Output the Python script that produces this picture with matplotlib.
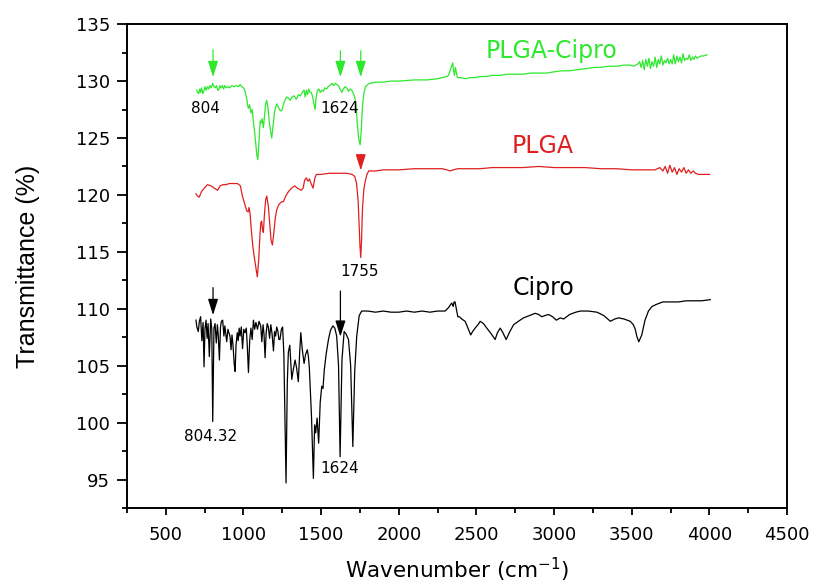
import matplotlib
matplotlib.use("Agg")
from matplotlib import pyplot as plt
from matplotlib.ticker import MultipleLocator

plt.rcParams['font.family'] = ['DejaVu Sans']

# Cipro spectrum (wavenumber, transmittance)
cipro_wn = [694, 700, 709, 716, 724, 732, 740, 746, 752, 759, 766, 772, 780, 789, 796,
            802, 810, 817, 825, 832, 838, 845, 852, 858, 866, 874, 880, 886, 892, 900,
            906, 913, 920, 926, 932, 940, 946, 952, 960, 966, 972, 978, 986, 994, 1002,
            1010, 1018, 1025, 1032, 1040, 1048, 1056, 1064, 1072, 1080, 1090, 1100, 1111,
            1118, 1126, 1132, 1139, 1146, 1153, 1160, 1168, 1176, 1184, 1193, 1200, 1207,
            1214, 1222, 1228, 1235, 1244, 1252, 1260, 1274, 1282, 1289, 1298, 1311, 1320,
            1332, 1342, 1353, 1362, 1369, 1378, 1390, 1400, 1411, 1418, 1424, 1438, 1450,
            1458, 1465, 1474, 1484, 1494, 1504, 1512, 1520, 1532, 1547, 1560, 1575, 1588,
            1600, 1612, 1622, 1634, 1648, 1660, 1676, 1690, 1704, 1716, 1729, 1745, 1761,
            1800, 1850, 1900, 1950, 2000, 2050, 2100, 2150, 2200, 2250, 2298, 2320, 2335,
            2341, 2350, 2356, 2362, 2370, 2380, 2390, 2405, 2427, 2445, 2463, 2475, 2491,
            2510, 2524, 2545, 2572, 2595, 2620, 2635, 2653, 2670, 2691, 2715, 2739, 2770,
            2803, 2840, 2878, 2900, 2921, 2940, 2964, 2990, 3014, 3040, 3061, 3100, 3140,
            3168, 3220, 3276, 3320, 3362, 3390, 3415, 3450, 3490, 3510, 3522, 3532, 3545,
            3564, 3585, 3607, 3630, 3661, 3700, 3750, 3800, 3850, 3900, 3950, 4005]
cipro_t = [109.0, 108.4, 108.0, 108.9, 109.3, 107.2, 108.8, 104.9, 108.2, 109.0, 107.4,
           108.7, 105.8, 109.1, 108.2, 100.1, 108.3, 108.7, 107.0, 108.6, 107.6, 105.5,
           108.4, 108.9, 109.0, 107.6, 108.5, 107.8, 107.1, 108.2, 107.9, 107.6, 106.4,
           107.7, 106.9, 105.2, 104.5, 106.8, 107.9, 107.2, 108.3, 107.6, 108.4, 106.5,
           108.2, 107.9, 108.3, 106.6, 104.4, 107.2, 108.3, 107.3, 109.0, 108.2, 108.8,
           108.2, 108.9, 108.5, 107.1, 108.6, 107.8, 105.7, 107.9, 108.7, 108.4, 107.4,
           108.6, 107.8, 106.3, 108.0, 107.6, 108.4, 108.0, 107.3, 107.3, 108.2, 108.4,
           106.0, 94.7, 103.5, 106.2, 106.8, 103.8, 104.6, 105.5, 104.8, 103.6, 106.2,
           107.9, 106.5, 105.2, 106.0, 106.4, 105.8, 104.8, 100.5, 95.1, 99.8, 99.1,
           100.4, 98.2, 101.8, 103.2, 103.0, 104.6, 106.0, 107.3, 108.1, 108.5, 108.3,
           107.6, 105.0, 97.0, 105.5, 108.0, 107.8, 107.3, 105.0, 97.9, 104.5, 107.6,
           109.4, 109.8, 109.8, 109.7, 109.8, 109.7, 109.7, 109.8, 109.7, 109.8, 109.7,
           109.8, 109.8, 110.1, 110.4, 110.5, 110.2, 110.6, 110.6, 110.0, 109.3, 109.3,
           109.1, 108.9, 108.3, 107.7, 108.0, 108.3, 108.6, 108.9, 108.7, 108.2, 107.8,
           107.3, 107.9, 108.3, 107.9, 107.3, 108.0, 108.6, 108.9, 109.2, 109.4, 109.6,
           109.5, 109.3, 109.4, 109.5, 109.3, 109.0, 109.2, 109.1, 109.5, 109.7, 109.8,
           109.8, 109.7, 109.4, 108.9, 109.1, 109.2, 109.1, 108.9, 108.6, 108.2, 107.6,
           107.1, 107.7, 109.0, 109.8, 110.2, 110.4, 110.6, 110.6, 110.6, 110.7, 110.7,
           110.7, 110.8]

# PLGA spectrum
plga_wn = [694, 704, 715, 730, 748, 768, 790, 812, 833, 850, 868, 886, 910, 935, 961,
           980, 993, 1008, 1021, 1030, 1036, 1042, 1050, 1060, 1070, 1080, 1089, 1098,
           1106, 1112, 1117, 1122, 1128, 1136, 1143, 1150, 1160, 1170, 1178, 1186, 1195,
           1205, 1214, 1230, 1245, 1257, 1272, 1290, 1310, 1330, 1345, 1360, 1372, 1384,
           1394, 1405, 1415, 1425, 1435, 1448, 1460, 1470, 1500, 1550, 1600, 1663, 1700,
           1717, 1728, 1738, 1745, 1750, 1755, 1760, 1766, 1775, 1784, 1795, 1806, 1850,
           1900, 2000, 2100, 2200, 2280, 2310, 2330, 2350, 2380, 2450, 2524, 2600, 2700,
           2800, 2900, 3000, 3100, 3200, 3300, 3400, 3500, 3600, 3650, 3680, 3700, 3715,
           3730, 3745, 3760, 3775, 3790, 3805, 3820, 3835, 3850, 3865, 3880, 3895, 3910,
           3930, 3960, 4000]
plga_t = [120.1, 119.9, 119.8, 120.3, 120.6, 120.9, 120.8, 120.6, 120.4, 120.8, 120.9,
          120.9, 121.0, 121.0, 121.0, 120.8, 119.9, 119.2, 118.6, 118.5, 118.9, 118.4,
          117.0, 115.5, 114.5, 113.6, 112.8, 114.3, 116.5, 117.6, 117.7, 117.0, 116.7,
          118.5, 119.6, 119.9, 119.0, 117.3, 116.0, 115.6, 116.6, 118.0, 118.7, 119.2,
          119.4, 119.4, 119.9, 120.3, 120.6, 120.8, 120.6, 120.5, 120.4, 120.6, 121.3,
          121.5, 121.2, 121.4, 121.0, 120.6, 121.5, 121.8, 121.8, 121.9, 121.9, 121.9,
          121.8, 121.6, 121.0, 119.5, 117.2, 115.5, 114.5, 116.0, 118.8, 120.5, 121.2,
          121.8, 122.1, 122.1, 122.2, 122.2, 122.3, 122.3, 122.3, 122.2, 122.1, 122.2,
          122.3, 122.3, 122.3, 122.4, 122.4, 122.4, 122.5, 122.4, 122.4, 122.4, 122.3,
          122.3, 122.2, 122.2, 122.2, 122.4, 122.1, 122.5, 121.9, 122.6, 122.0, 122.4,
          121.8, 122.3, 122.0, 122.4, 121.9, 122.2, 121.9, 122.1, 121.9, 121.8, 121.8,
          121.8]

# PLGA-Cipro spectrum
pc_wn = [699, 705, 712, 718, 724, 730, 738, 745, 752, 760,
         768, 776, 784, 792, 802, 810, 818, 826, 834, 840,
         848, 856, 864, 872, 880, 890, 900, 912, 925, 940,
         955, 968, 978, 990, 1000, 1010, 1020, 1031, 1040, 1048,
         1056, 1064, 1072, 1080, 1086, 1092, 1098, 1104, 1108, 1113,
         1120, 1128, 1136, 1143, 1150, 1158, 1166, 1174, 1182, 1190,
         1200, 1214, 1225, 1236, 1246, 1256, 1266, 1278, 1290, 1300,
         1312, 1325, 1340, 1354, 1366, 1378, 1390, 1397, 1405, 1412,
         1420, 1428, 1436, 1444, 1452, 1461, 1468, 1476, 1485, 1494,
         1504, 1514, 1524, 1535, 1545, 1556, 1569, 1580, 1590, 1600,
         1611, 1622, 1633, 1643, 1654, 1665, 1676, 1686, 1697, 1708,
         1718, 1726, 1734, 1742, 1751, 1758, 1766, 1775, 1785, 1800,
         1814, 1850, 1900, 1950, 2008, 2100, 2180, 2250, 2309, 2320,
         2330, 2340, 2347, 2352, 2358, 2364, 2377, 2400, 2430, 2459,
         2490, 2530, 2566, 2600, 2650, 2700, 2738, 2800, 2850, 2910,
         2950, 2996, 3050, 3100, 3150, 3211, 3260, 3300, 3350, 3404,
         3450, 3490, 3511, 3540, 3550, 3560, 3570, 3580, 3590, 3600,
         3610, 3620, 3630, 3640, 3650, 3660, 3670, 3680, 3690, 3700,
         3710, 3720, 3730, 3740, 3750, 3760, 3770, 3780, 3790, 3800,
         3810, 3820, 3830, 3840, 3850, 3860, 3870, 3880, 3890, 3900,
         3910, 3920, 3930, 3945, 3960, 3983]
pc_t = [129.2, 129.0, 128.9, 129.3, 129.0, 129.4, 128.9, 129.1, 129.5, 129.2,
        129.5, 129.3, 129.6, 129.4, 129.8, 129.5, 129.4, 129.6, 129.2, 129.2,
        129.6, 129.4, 129.6, 129.3, 129.6, 129.4, 129.5, 129.4, 129.6, 129.5,
        129.6, 129.5, 129.7, 129.5, 129.4, 129.1, 128.5, 127.6, 127.9, 127.2,
        127.5, 126.4, 125.5, 124.3, 123.5, 123.1, 124.2, 125.8, 126.5, 126.3,
        126.7, 125.9, 127.0, 128.0, 128.3, 127.6, 126.4, 125.6, 125.0, 126.0,
        127.3, 128.0, 127.7, 127.4, 127.4, 127.9, 128.3, 128.6, 128.5, 128.3,
        128.6, 128.7, 128.4, 128.8, 128.7, 129.0, 129.2, 128.6, 129.2, 128.8,
        129.3, 129.0, 129.0, 128.7, 128.1, 127.5, 128.6, 129.2, 129.3, 129.0,
        129.2, 129.1, 129.4, 129.3, 129.5, 129.6, 129.8, 129.6, 129.8, 129.7,
        129.6, 129.3, 129.0, 129.3, 129.5, 129.4, 129.1, 129.3, 129.2, 128.9,
        128.5, 127.6, 126.0, 124.9, 124.4, 125.6, 127.8, 128.9, 129.5, 129.7,
        129.8, 129.9, 129.9, 130.0, 130.0, 130.1, 130.1, 130.2, 130.4, 130.5,
        130.9, 131.3, 131.6, 131.0, 130.5, 131.2, 130.3, 130.3, 130.2, 130.3,
        130.3, 130.4, 130.4, 130.5, 130.5, 130.6, 130.6, 130.6, 130.7, 130.7,
        130.7, 130.8, 130.9, 130.9, 131.0, 131.1, 131.2, 131.2, 131.3, 131.3,
        131.4, 131.4, 131.3, 131.5, 131.7, 131.2, 131.8, 131.0, 131.9, 131.3,
        132.0, 131.1, 131.7, 131.3, 132.1, 131.2, 131.9, 131.5, 132.2, 131.4,
        131.8, 131.6, 132.0, 131.5, 131.9, 131.5, 132.3, 131.5, 132.2, 131.7,
        132.1, 131.6, 132.4, 131.8, 132.0, 131.9, 132.3, 131.8, 132.1, 131.9,
        132.2, 132.0, 132.1, 132.2, 132.2, 132.3]

green = '#2ee82e'
red = '#e02020'

fig = plt.figure(figsize=(8.14, 5.88), dpi=100)
ax = fig.add_axes([0.156, 0.136, 0.811, 0.823])

ax.plot(cipro_wn, cipro_t, color='black', lw=0.9)
ax.plot(plga_wn, plga_t, color=red, lw=0.9)
ax.plot(pc_wn, pc_t, color=green, lw=0.9)

ax.set_xlim(250, 4500)
ax.set_ylim(92.5, 135)
ax.xaxis.set_major_locator(MultipleLocator(500))
ax.xaxis.set_minor_locator(MultipleLocator(250))
ax.yaxis.set_major_locator(MultipleLocator(5))
ax.yaxis.set_minor_locator(MultipleLocator(2.5))
ax.tick_params(which='both', direction='out', width=1.3, labelsize=13)
ax.tick_params(axis='x', which='major', length=5.2, pad=8)
ax.tick_params(axis='x', which='minor', length=3.6)
ax.tick_params(axis='y', which='major', length=7, pad=5)
ax.tick_params(axis='y', which='minor', length=3.6)
for s in ax.spines.values():
    s.set_linewidth(1.4)

ax.set_xlabel('Wavenumber (cm$^{-1}$)', fontsize=15.5, labelpad=8)
ax.set_ylabel('Transmittance (%)', fontsize=18, labelpad=26, family='Liberation Sans')

# arrows marking peaks
def arrow(x, y0, y1, c):
    ax.annotate('', xy=(x, y1), xytext=(x, y0),
                arrowprops=dict(arrowstyle='-|>,head_width=0.22,head_length=0.7',
                                color=c, lw=0.9, mutation_scale=14))

arrow(804, 133.0, 130.1, green)
arrow(1624, 132.9, 130.1, green)
arrow(1755, 132.9, 130.1, green)
arrow(1755, 123.8, 121.9, red)
arrow(804, 112.1, 109.2, 'black')
arrow(1624, 111.8, 107.3, 'black')

ax.text(752, 127.6, '804', fontsize=11, ha='center', va='center')
ax.text(1622, 127.6, '1624', fontsize=11, ha='center', va='center')
ax.text(1750, 113.3, '1755', fontsize=11, ha='center', va='center')
ax.text(791, 98.8, '804.32', fontsize=11, ha='center', va='center')
ax.text(1622, 96.0, '1624', fontsize=11, ha='center', va='center')

ax.text(2985, 132.6, 'PLGA-Cipro', color=green, fontsize=17, ha='center', va='center')
ax.text(2926, 124.3, 'PLGA', color=red, fontsize=17, ha='center', va='center')
ax.text(2933, 111.8, 'Cipro', color='black', fontsize=17, ha='center', va='center')

fig.savefig('out.png', dpi=100)
